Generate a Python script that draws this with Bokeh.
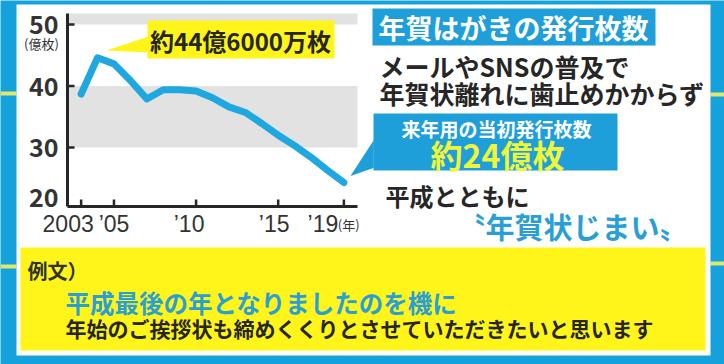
from bokeh.plotting import figure
from bokeh.models import Range1d, ColumnDataSource
from bokeh.core.properties import value
from bokeh.embed import file_html
from bokeh.resources import INLINE

# ---------------- data ----------------
years = [2003, 2004, 2005, 2006, 2007, 2008, 2009, 2010, 2011,
         2012, 2013, 2014, 2015, 2016, 2017, 2018, 2019]
issued = [38.7, 44.6, 43.6, 40.9, 37.9, 39.4, 39.4, 39.2, 38.1,
          36.6, 35.7, 33.9, 32.0, 30.3, 28.4, 26.3, 24.3]   # 億枚
y_ticks = [20, 30, 40, 50]
y_tick_labels = ["20", "30", "40", "50"]
x_ticks = [2003, 2005, 2010, 2015, 2019]
x_tick_labels = ["2003", "’05", "’10", "’15", "’19"]
band_lo = [30, 50]
band_hi = [40, 51.8]
peak_label = "約44億6000万枚"
title_text = "年賀はがきの発行枚数"
sub_lines = ["メールやSNSの普及で", "年賀状離れに歯止めかからず"]
next_year_head = "来年用の当初発行枚数"
next_year_value = "約24億枚"
heisei_line = "平成とともに"
shimai_line = "〝年賀状じまい〟"
example_head = "例文）"
example_lines = ["平成最後の年となりましたのを機に",
                 "年始のご挨拶状も締めくくりとさせていただきたいと思います"]

# ---------------- layout ----------------
W, H = 724, 364
CH_L, CH_R, CH_T, CH_B = 67, 357, 13, 206          # chart box in pixels
X_LO, X_HI = 2002.17, 2019.83                       # chart window (years)
V_LO, V_HI = 20.4, 51.8                             # chart window (億枚)
sx = (CH_R - CH_L) / (X_HI - X_LO)
sy = (CH_B - CH_T) / (V_HI - V_LO)

JP = value("Noto Sans CJK JP")
SANS = value("Liberation Sans")
BLUE_BG = "#15a2dc"
BLUE_LINE = "#1fa7e0"
BLUE_BOX = "#1f9fd9"
BLUE_TXT = "#2a9fd4"
YELLOW = "#fff51a"
DARK = "#262626"

p = figure(width=W, height=H, output_backend="svg", toolbar_location=None,
           x_range=Range1d(0, W), y_range=Range1d(H, 0),
           min_border=0, outline_line_color=None)
p.axis.visible = False
p.grid.visible = False
p.background_fill_color = BLUE_BG
p.border_fill_color = BLUE_BG

p.extra_x_ranges = {"yr": Range1d(X_LO - CH_L / sx, X_LO + (W - CH_L) / sx)}
p.extra_y_ranges = {"vr": Range1d(V_LO - (H - CH_B) / sy, V_HI + CH_T / sy)}
C = dict(x_range_name="yr", y_range_name="vr")

# decorative lines on the blue frame
p.segment(x0=[0, 0, 710, 710], x1=[16, 16, 724, 724], y0=[93, 266, 94, 263],
          y1=[93, 266, 94, 263], line_color="#dfe86a", line_width=4)
# white panel
p.quad(left=[16], right=[710], top=[4], bottom=[355], fill_color="white", line_color=None)

# ---------------- chart ----------------
p.quad(left=X_LO, right=X_HI, bottom=band_lo, top=band_hi,
       fill_color="#e2e2e2", line_color=None, **C)
p.line(x=[X_LO, X_LO], y=[V_LO, V_HI], line_color=DARK, line_width=3, **C)
p.line(x=[X_LO, X_HI], y=[V_LO, V_LO], line_color=DARK, line_width=3, **C)
yt = y_ticks[1:]
p.segment(x0=[X_LO] * len(yt), x1=[X_LO + 7 / sx] * len(yt), y0=yt, y1=yt,
          line_color=DARK, line_width=2.5, **C)
p.segment(x0=x_ticks, x1=x_ticks, y0=[V_LO] * len(x_ticks),
          y1=[V_LO + 7 / sy] * len(x_ticks), line_color=DARK, line_width=2.5, **C)

# y tick labels
ysrc = ColumnDataSource(dict(x=[X_LO] * len(y_ticks), y=y_ticks, t=y_tick_labels,
                             yo=[-11 if v == y_ticks[0] else 0 for v in y_ticks]))
p.text(x="x", y="y", text="t", source=ysrc, x_offset=-9, y_offset="yo",
       text_align="right", text_baseline="middle", text_font=JP,
       text_font_size="25px", text_font_style="bold", text_color="#333333", **C)
p.text(x=[X_LO], y=[50], text=["(億枚)"], x_offset=-26, y_offset=19,
       text_align="center", text_baseline="middle", text_font=JP,
       text_font_size="13px", text_color="#333333", **C)

# x tick labels
x_nudge = [-13, 0, -7, -4, -21]
xsrc = ColumnDataSource(dict(x=x_ticks, y=[V_LO] * len(x_ticks), t=x_tick_labels, xo=x_nudge))
p.text(x="x", y="y", text="t", source=xsrc, x_offset="xo", y_offset=17,
       text_align="center", text_baseline="middle",
       text_font=SANS, text_font_size="23px",
       text_color="#333333", **C)
p.text(x=[x_ticks[-1]], y=[V_LO], text=["(年)"], x_offset=-6, y_offset=18,
       text_align="left", text_baseline="middle", text_font=JP,
       text_font_size="13px", text_color="#333333", **C)

# data line
p.line(x=years, y=issued, line_color=BLUE_LINE, line_width=7,
       line_join="round", line_cap="round", **C)

# ---------------- callouts / texts ----------------
def txt(x, y, s, size, color=DARK, align="left", bold=True):
    p.text(x=[x], y=[y], text=[s], text_font=JP, text_font_size=f"{size}px",
           text_font_style="bold" if bold else "normal", text_color=color,
           text_align=align, text_baseline="middle")

# peak callout
p.patch(x=[148, 148, 106], y=[36, 52, 50], fill_color=YELLOW, line_color=None)
p.quad(left=[147], right=[334], top=[20], bottom=[58], fill_color=YELLOW, line_color=None)
txt(240, 40, peak_label, 24, align="center")

# title
p.quad(left=[372], right=[655], top=[8], bottom=[45], fill_color=BLUE_BOX, line_color=None)
txt(513, 27, title_text, 27, color="white", align="center")
txt(379, 65, sub_lines[0], 25)
txt(379, 92, sub_lines[1], 25)

# next-year callout
p.patch(x=[374, 348, 374], y=[137, 177, 168], fill_color=BLUE_BOX,
        line_color="white", line_width=1.5)
p.quad(left=[373], right=[617], top=[113], bottom=[170], fill_color=BLUE_BOX, line_color=None)
txt(496, 128, next_year_head, 19, color="white", align="center")
txt(497, 153, next_year_value, 32, color="#eef53a", align="center")

txt(385, 195, heisei_line, 24)
txt(572, 225, shimai_line, 29, color=BLUE_TXT, align="center")

# example box
p.quad(left=[20], right=[705], top=[247], bottom=[350], fill_color=YELLOW, line_color=None)
txt(27, 270, example_head, 20, color="#333333")
txt(65, 302, example_lines[0], 24.5, color=BLUE_TXT)
txt(65, 327, example_lines[1], 21)

open("out.html", "w").write(file_html(p, INLINE))
